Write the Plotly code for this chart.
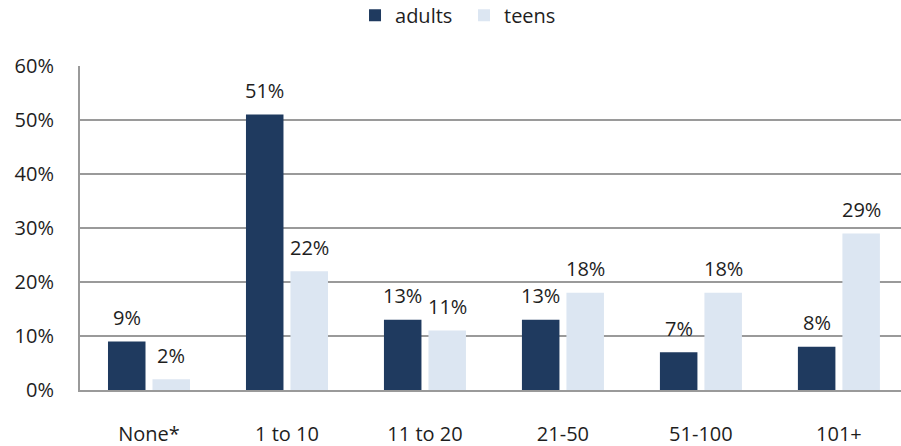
import plotly.graph_objects as go

# Share of respondents by bucket
categories = ["None*", "1 to 10", "11 to 20", "21-50", "51-100", "101+"]
adults = [9, 51, 13, 13, 7, 8]
teens = [2, 22, 11, 18, 18, 29]
y_ticks = [0, 10, 20, 30, 40, 50, 60]

ADULT_COLOR = "#1f3a5f"
TEEN_COLOR = "#dce6f2"
TEXT_COLOR = "#1e1e1e"
GRID_COLOR = "#9a9a9a"

xs = list(range(len(categories)))

fig = go.Figure()
fig.add_trace(go.Bar(name="adults", x=xs, y=adults, marker_color=ADULT_COLOR,
                     marker_line_width=0))
fig.add_trace(go.Bar(name="teens", x=xs, y=teens, marker_color=TEEN_COLOR,
                     marker_line_width=0))

# value labels above each bar
slot = 0.161
for i, v in enumerate(adults):
    fig.add_annotation(x=i - slot, y=v, text=f"{v}%", showarrow=False,
                       xref="x", yref="y", yshift=24, yanchor="middle")
for i, v in enumerate(teens):
    fig.add_annotation(x=i + slot, y=v, text=f"{v}%", showarrow=False,
                       xref="x", yref="y", yshift=24, yanchor="middle")

fig.update_layout(
    width=901, height=446,
    margin=dict(l=80, r=0, t=66, b=56),
    paper_bgcolor="white", plot_bgcolor="white",
    font=dict(family="Open Sans", size=20, color=TEXT_COLOR),
    barmode="group", bargap=0.355, bargroupgap=0.157,
    legend=dict(orientation="h", x=0.515, xanchor="center", xref="container",
                y=0.966, yanchor="middle", yref="container",
                entrywidth=64, entrywidthmode="pixels",
                font=dict(size=20), itemclick=False),
    showlegend=True,
)
fig.update_xaxes(
    range=[-0.5, 5.45], tickvals=xs, ticktext=categories,
    showline=True, linecolor=GRID_COLOR, linewidth=2,
    showgrid=False, ticks="", ticklabelstandoff=25, zeroline=False,
)
fig.update_yaxes(
    range=[0, 60], tickvals=y_ticks, ticktext=[f"{t}%" for t in y_ticks],
    showline=True, linecolor=GRID_COLOR, linewidth=2,
    showgrid=True, gridcolor=GRID_COLOR, gridwidth=2,
    ticks="", ticklabelstandoff=20, zeroline=False,
)

fig.write_html("out.html")
